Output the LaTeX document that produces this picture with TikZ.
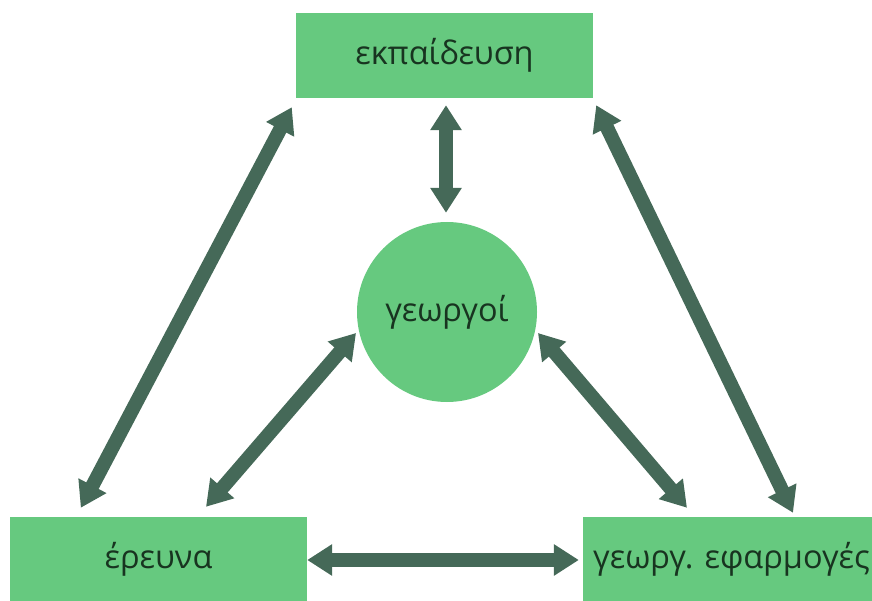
\documentclass[tikz,border=0pt]{standalone}
\usepackage{fontspec}
\setmainfont{Open Sans}
\usetikzlibrary{arrows.meta,calc}

\definecolor{boxgreen}{RGB}{102,201,127}
\definecolor{arrowgreen}{RGB}{69,105,88}
\definecolor{labelgreen}{RGB}{24,52,32}

\tikzset{
  block/.style={rectangle, fill=boxgreen, draw=none, minimum width=297pt,
    minimum height=85pt, inner sep=0pt, text=labelgreen, font=\fontsize{32.5}{36}\selectfont},
  hubnode/.style={circle, fill=boxgreen, draw=none, minimum size=180pt,
    inner sep=0pt, text=labelgreen, font=\fontsize{32.5}{36}\selectfont},
  biarrow/.style={draw=arrowgreen, line width=14pt,
    {Triangle[width=30pt,length=25pt]}-{Triangle[width=30pt,length=25pt]}}
}

\begin{document}
\begin{tikzpicture}[x=1pt,y=-1pt]
  \useasboundingbox (0,0) rectangle (872,601);
  \clip (0,0) rectangle (872,601);

  % the four parties
  \node[block]   (edu)   at (444.5,55.5) {εκπαίδευση};
  \node[block]   (res)   at (158.5,559.5) {έρευνα};
  \node[block]   (app)   at (731.5,559.5) {γεωργ. εφαρμογές};
  \node[hubnode] (hub)   at (447,312)    {γεωργοί};

  % two-way links
  \draw[biarrow] ($(edu.south)+(1.5,7)$) -- ($(hub.north)+(-1,-9)$);
  \draw[biarrow] ($(edu.south west)+(-4,9)$) -- ($(res.north west)+(71,-9)$);
  \draw[biarrow] ($(edu.south east)+(3,7)$) -- ($(app.north)+(61.5,-4)$);
  \draw[biarrow] ($(hub.center)!1.035!(hub.193)$) -- ($(res.north)+(47.5,-10)$);
  \draw[biarrow] ($(hub.center)!1.035!(hub.347)$) -- ($(app.north)+(-44.5,-9)$);
  \draw[biarrow] ($(res.east)+(0,0.5)$) -- ($(app.west)+(-4,0.5)$);
\end{tikzpicture}
\end{document}
